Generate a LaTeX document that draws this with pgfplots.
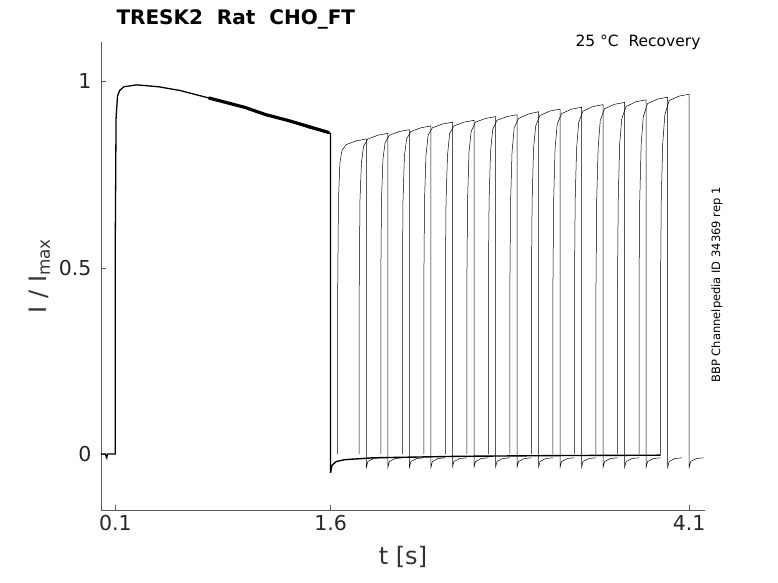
\documentclass[border=0pt]{standalone}
\usepackage{pgfplots}
\pgfplotsset{compat=1.18}
\usepackage{fontspec}
\setmainfont{DejaVu Sans}
\setsansfont{DejaVu Sans}
\begin{document}
\begin{tikzpicture}
\useasboundingbox (0,0) rectangle (778bp,583bp);
\begin{axis}[at={(101bp,73bp)}, anchor=south west, scale only axis,
  width=604bp, height=468bp,
  xmin=0, xmax=4.21, ymin=-0.15, ymax=1.105,
  axis x line*=bottom, axis y line*=left,
  axis line style={-, gray!70!black},
  xtick={0.1,1.6,4.1}, xticklabels={0.1,1.6,4.1},
  ytick={0,0.5,1}, yticklabels={0,0.5,1},
  tick align=inside, major tick length=5bp, tick style={gray!70!black},
  ticklabel style={font=\fontsize{20.5bp}{24bp}\selectfont, text=black!85},
  xticklabel style={yshift=-2bp},
  yticklabel style={xshift=-6bp},
  xlabel={t [s]}, ylabel={I / I$_{\mathrm{max}}$},
  label style={font=\fontsize{24bp}{28bp}\selectfont, text=black!80},
  xlabel style={yshift=-8bp},
  ylabel style={yshift=2bp},
  clip=false]
% first pulse (common to all sweeps)
\addplot[black, line width=1.3pt] coordinates {(0,0) (0.03,0) (0.04,-0.01) (0.045,0) (0.1,0) (0.1,0.6) (0.105,0.9) (0.115,0.96) (0.13,0.975) (0.16,0.985) (0.25,0.99) (0.4,0.985) (0.55,0.975) (0.7,0.96) (0.85,0.945) (1.0,0.93) (1.15,0.91) (1.3,0.895) (1.45,0.875) (1.6,0.86) (1.6,-0.05)};
\addplot[black, line width=3.2pt] coordinates {(0.75,0.955) (0.85,0.945) (1.0,0.93) (1.15,0.91) (1.3,0.895) (1.45,0.878) (1.59,0.862)};
% common baseline between pulses
\addplot[black, line width=1.4pt] coordinates {(1.6,-0.05) (1.61,-0.03) (1.64,-0.02) (1.7,-0.015) (1.9,-0.01) (2.5,-0.006) (3.2,-0.004) (3.9,-0.003)};
% second pulses
\pgfplotsset{sw/.style={black, line width=0.5pt}}
\addplot[sw] coordinates {(1.65,0) (1.65,0.45) (1.655,0.68) (1.665,0.78) (1.68,0.815) (1.71,0.83) (1.78,0.84) (1.85,0.845) (1.85,-0.035) (1.86,-0.02) (1.9,-0.012) (1.95,-0.01)};
\addplot[sw] coordinates {(1.80,0) (1.80,0.45) (1.805,0.68) (1.815,0.78) (1.83,0.825) (1.86,0.845) (1.93,0.855) (2.00,0.86) (2.00,-0.035) (2.01,-0.02) (2.05,-0.012) (2.10,-0.01)};
\addplot[sw] coordinates {(1.95,0) (1.95,0.45) (1.955,0.68) (1.965,0.79) (1.98,0.835) (2.01,0.855) (2.08,0.865) (2.15,0.87) (2.15,-0.035) (2.16,-0.02) (2.20,-0.012) (2.25,-0.01)};
\addplot[sw] coordinates {(2.10,0) (2.10,0.45) (2.105,0.68) (2.115,0.8) (2.13,0.845) (2.16,0.865) (2.23,0.875) (2.30,0.88) (2.30,-0.035) (2.31,-0.02) (2.35,-0.012) (2.40,-0.01)};
\addplot[sw] coordinates {(2.25,0) (2.25,0.45) (2.255,0.68) (2.265,0.8) (2.28,0.855) (2.31,0.875) (2.38,0.885) (2.45,0.89) (2.45,-0.035) (2.46,-0.02) (2.50,-0.012) (2.55,-0.01)};
\addplot[sw] coordinates {(2.40,0) (2.40,0.45) (2.405,0.68) (2.415,0.8) (2.43,0.86) (2.46,0.88) (2.53,0.89) (2.60,0.895) (2.60,-0.035) (2.61,-0.02) (2.65,-0.012) (2.70,-0.01)};
\addplot[sw] coordinates {(2.55,0) (2.55,0.45) (2.555,0.68) (2.565,0.81) (2.58,0.865) (2.61,0.89) (2.68,0.9) (2.75,0.905) (2.75,-0.035) (2.76,-0.02) (2.80,-0.012) (2.85,-0.01)};
\addplot[sw] coordinates {(2.70,0) (2.70,0.45) (2.705,0.68) (2.715,0.81) (2.73,0.87) (2.76,0.895) (2.83,0.905) (2.90,0.91) (2.90,-0.035) (2.91,-0.02) (2.95,-0.012) (3.00,-0.01)};
\addplot[sw] coordinates {(2.85,0) (2.85,0.45) (2.855,0.68) (2.865,0.81) (2.88,0.875) (2.91,0.9) (2.98,0.912) (3.05,0.918) (3.05,-0.035) (3.06,-0.02) (3.10,-0.012) (3.15,-0.01)};
\addplot[sw] coordinates {(3.00,0) (3.00,0.45) (3.005,0.68) (3.015,0.82) (3.03,0.88) (3.06,0.908) (3.13,0.92) (3.20,0.925) (3.20,-0.035) (3.21,-0.02) (3.25,-0.012) (3.30,-0.01)};
\addplot[sw] coordinates {(3.15,0) (3.15,0.45) (3.155,0.68) (3.165,0.82) (3.18,0.885) (3.21,0.913) (3.28,0.925) (3.35,0.93) (3.35,-0.035) (3.36,-0.02) (3.40,-0.012) (3.45,-0.01)};
\addplot[sw] coordinates {(3.30,0) (3.30,0.45) (3.305,0.68) (3.315,0.82) (3.33,0.89) (3.36,0.92) (3.43,0.932) (3.50,0.937) (3.50,-0.035) (3.51,-0.02) (3.55,-0.012) (3.60,-0.01)};
\addplot[sw] coordinates {(3.45,0) (3.45,0.45) (3.455,0.68) (3.465,0.82) (3.48,0.895) (3.51,0.926) (3.58,0.938) (3.65,0.943) (3.65,-0.035) (3.66,-0.02) (3.70,-0.012) (3.75,-0.01)};
\addplot[sw] coordinates {(3.60,0) (3.60,0.45) (3.605,0.68) (3.615,0.83) (3.63,0.9) (3.66,0.932) (3.73,0.945) (3.80,0.95) (3.80,-0.035) (3.81,-0.02) (3.85,-0.012) (3.90,-0.01)};
\addplot[sw] coordinates {(3.75,0) (3.75,0.45) (3.755,0.68) (3.765,0.83) (3.78,0.905) (3.81,0.94) (3.88,0.952) (3.95,0.957) (3.95,-0.035) (3.96,-0.02) (4.00,-0.012) (4.05,-0.01)};
\addplot[sw] coordinates {(3.90,0) (3.90,0.45) (3.905,0.68) (3.915,0.83) (3.93,0.91) (3.96,0.948) (4.03,0.96) (4.10,0.965) (4.10,-0.035) (4.11,-0.02) (4.15,-0.012) (4.20,-0.01)};
\end{axis}
\node[anchor=west, font=\bfseries\fontsize{20bp}{24bp}\selectfont] at (113bp,564bp) {TRESK2\ \ Rat\ \ CHO\_FT};
\node[anchor=east, font=\fontsize{15.5bp}{18bp}\selectfont] at (704bp,541bp) {25 °C\ \ Recovery};
\node[rotate=90, font=\fontsize{11.5bp}{13bp}\selectfont] at (717bp,298bp) {BBP Channelpedia ID 34369 rep 1};
\end{tikzpicture}
\end{document}
